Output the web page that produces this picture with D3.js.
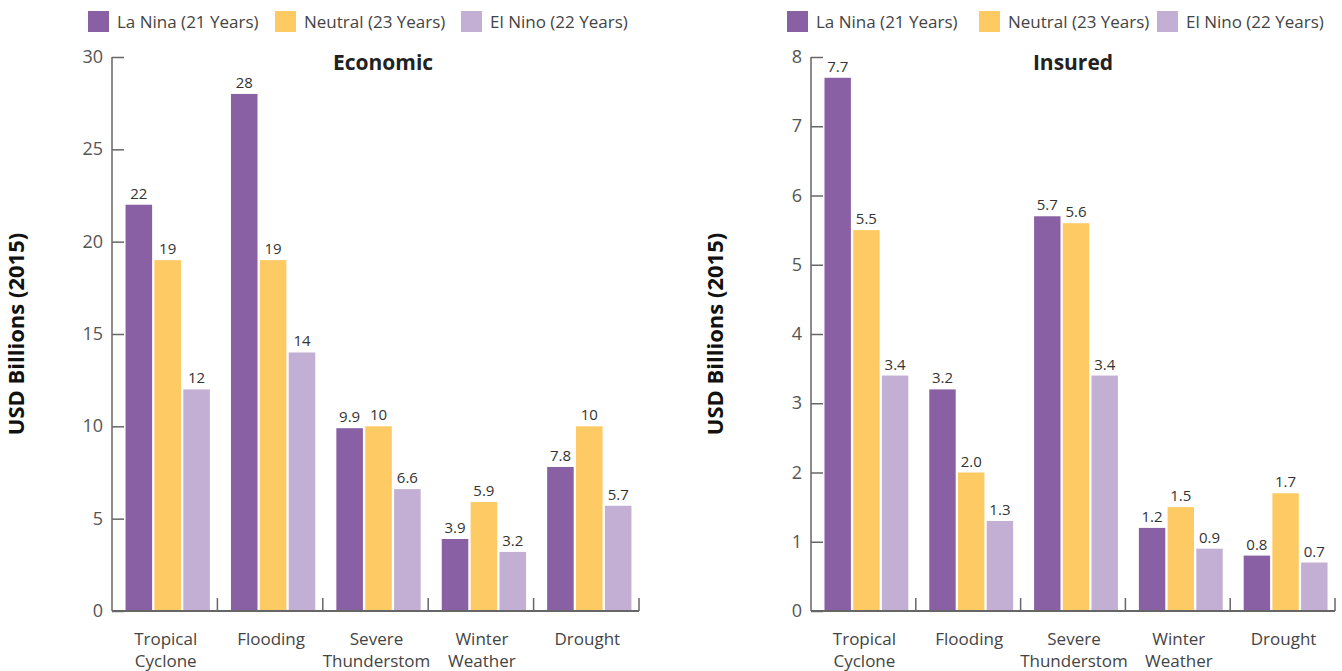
<!DOCTYPE html>
<html>
<head>
<meta charset="utf-8">
<script src="https://cdn.jsdelivr.net/npm/d3@7"></script>
<style>
  body { margin: 0; background: #fff; }
  svg { display: block; font-family: "Open Sans", "Noto Sans", sans-serif; }
</style>
</head>
<body>
<svg id="chart" width="1342" height="671"></svg>
<script>
// categories + series
const categories = [["Tropical", "Cyclone"], ["Flooding"], ["Severe", "Thunderstom"], ["Winter", "Weather"], ["Drought"]];
const seriesNames = ["La Nina (21 Years)", "Neutral (23 Years)", "El Nino (22 Years)"];
const seriesColors = ["#8a60a5", "#fdca64", "#c4afd4"];

// economic losses, USD billions (2015)
const econLaNina = [22, 28, 9.9, 3.9, 7.8];
const econNeutral = [19, 19, 10, 5.9, 10];
const econElNino = [12, 14, 6.6, 3.2, 5.7];
const econTicks = [0, 5, 10, 15, 20, 25, 30];

// insured losses, USD billions (2015)
const insLaNina = [7.7, 3.2, 5.7, 1.2, 0.8];
const insNeutral = [5.5, 2.0, 5.6, 1.5, 1.7];
const insElNino = [3.4, 1.3, 3.4, 0.9, 0.7];
const insTicks = [0, 1, 2, 3, 4, 5, 6, 7, 8];

const svg = d3.select("#chart");

function drawPanel(opts) {
  const g = svg.append("g");
  const left = opts.left, right = opts.right, top = 57, bottom = 611;
  const series = [opts.a, opts.b, opts.c];

  // groups sit a little right of the band centre in the original
  const x0 = d3.scaleBand()
    .domain(d3.range(categories.length))
    .range([left + 3, right + 3])
    .paddingInner(0.2)
    .paddingOuter(0.1);
  const x1 = d3.scaleBand()
    .domain(d3.range(series.length))
    .range([0, x0.bandwidth()])
    .paddingInner(0.08);
  const y = d3.scaleLinear().domain([0, opts.max]).range([bottom, top]);

  // legend
  const leg = g.append("g");
  seriesNames.forEach((name, i) => {
    const lx = opts.legendX[i];
    leg.append("rect").attr("x", lx).attr("y", 11).attr("width", 21).attr("height", 21)
      .attr("fill", seriesColors[i]);
    leg.append("text").attr("x", lx + 29).attr("y", 28)
      .style("font-size", "17px").style("fill", "#444")
      .text(name);
  });

  // bars
  categories.forEach((c, ci) => {
    series.forEach((vals, si) => {
      const v = vals[ci];
      const bx = x0(ci) + x1(si);
      g.append("rect")
        .attr("x", bx).attr("y", y(v))
        .attr("width", x1.bandwidth()).attr("height", y(0) - y(v))
        .attr("fill", seriesColors[si]);
      g.append("text")
        .attr("x", bx + x1.bandwidth() / 2).attr("y", y(v) - 6)
        .attr("text-anchor", "middle")
        .style("font-size", "15px").style("fill", "#333")
        .text(opts.fmt(v));
    });
  });

  // y axis, ticks pointing inward
  const yAxis = g.append("g")
    .attr("transform", "translate(" + left + ",0)")
    .call(d3.axisRight(y).tickValues(opts.ticks).tickSize(12).tickFormat(""));
  yAxis.select(".domain").attr("d", "M0," + bottom + "V" + top);
  yAxis.selectAll("line").attr("stroke", "#666").attr("stroke-width", 1.5);
  yAxis.selectAll(".domain").attr("stroke", "#666").attr("stroke-width", 1.5);
  opts.ticks.forEach(t => {
    g.append("text")
      .attr("x", left - 9).attr("y", y(t) + 6)
      .attr("text-anchor", "end")
      .style("font-size", "18px").style("fill", "#555")
      .text(t);
  });

  // x axis with separators between groups
  g.append("line")
    .attr("x1", left).attr("x2", right).attr("y1", bottom).attr("y2", bottom)
    .attr("stroke", "#666").attr("stroke-width", 2);
  const step = (right - left) / categories.length;
  d3.range(1, categories.length + 1).forEach(i => {
    const sx = left + i * step;
    g.append("line")
      .attr("x1", sx).attr("x2", sx).attr("y1", bottom).attr("y2", bottom - 13)
      .attr("stroke", "#666").attr("stroke-width", 1.5);
  });

  categories.forEach((c, ci) => {
    const cx = x0(ci) + x0.bandwidth() / 2 - 2;
    const t = g.append("text")
      .attr("x", cx).attr("y", 645)
      .attr("text-anchor", "middle")
      .style("font-size", "17px").style("fill", "#444");
    c.forEach((line, li) => {
      t.append("tspan").attr("x", cx).attr("dy", li ? 22 : 0).text(line);
    });
  });

  // title
  g.append("text")
    .attr("x", opts.titleX).attr("y", 70)
    .attr("text-anchor", "middle")
    .style("font-size", "21px").style("font-weight", "bold").style("fill", "#222")
    .text(opts.title);

  // y title
  g.append("text")
    .attr("transform", "translate(" + opts.yTitleX + "," + (bottom + top) / 2 + ") rotate(-90)")
    .attr("text-anchor", "middle")
    .style("font-size", "22px").style("font-weight", "bold").style("fill", "#111")
    .text("USD Billions (2015)");
}

drawPanel({
  left: 112, right: 639, max: 30, ticks: econTicks,
  a: econLaNina, b: econNeutral, c: econElNino,
  fmt: v => String(v),
  title: "Economic", titleX: 383, yTitleX: 24,
  legendX: [88, 275, 461]
});

drawPanel({
  left: 811, right: 1335, max: 8, ticks: insTicks,
  a: insLaNina, b: insNeutral, c: insElNino,
  fmt: d3.format(".1f"),
  title: "Insured", titleX: 1073, yTitleX: 723,
  legendX: [787, 979, 1157]
});
</script>
</body>
</html>
